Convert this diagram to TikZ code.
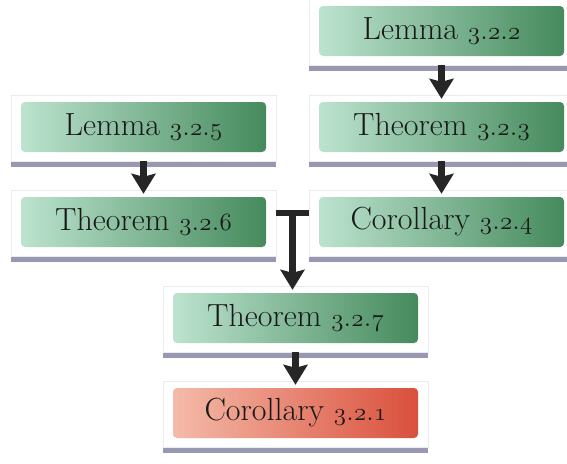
\documentclass[tikz,border=0pt]{standalone}
\usetikzlibrary{arrows.meta}
\usetikzlibrary{positioning, calc, shadows, backgrounds}

\definecolor{mintlight}{HTML}{BCE3CF}
\definecolor{mintmid}{HTML}{86BFA0}
\definecolor{mintdark}{HTML}{458A5C}
\definecolor{salmonlight}{HTML}{F5BAA9}
\definecolor{salmonmid}{HTML}{EB8A74}
\definecolor{salmondark}{HTML}{D9503C}
\definecolor{shadowgray}{HTML}{77759A}

\newcommand\osnum[1]{{\fontencoding{OML}\fontfamily{cmm}\fontseries{m}\fontshape{it}\selectfont #1}}
\newcommand\refnum[1]{\osnum{3}.\osnum{2}.\osnum{#1}}

\begin{document}
\begin{tikzpicture}[x=1pt, y=-1pt,
		box/.style = {rounded corners=4pt, minimum width=245pt, minimum height=50pt,
			left color=mintlight, middle color=mintmid, right color=mintdark, text=black!90,
			font=\fontsize{32}{34}\selectfont},
		redbox/.style = {box, left color=salmonlight, middle color=salmonmid, right color=salmondark},
		card/.style = {fill=white, draw=black!8, line width=0.6pt,
			drop shadow={shadow xshift=0pt, shadow yshift=-6pt, opacity=0.75, fill=shadowgray}},
		arr/.style = {line width=6.5pt, draw=black!85, -{Stealth[length=20pt, width=24pt, inset=3pt]}},
		bar/.style = {line width=6.5pt, draw=black!85}]
	\useasboundingbox (0,0) rectangle (567,463);
	
	\node[box] (L322) at (441.5,31) {Lemma \refnum{2}};
	\node[box] (T323) at (441.5,127) {Theorem \refnum{3}};
	\node[box] (C324) at (441.5,222) {Corollary \refnum{4}};
	\node[box] (L325) at (143.5,127) {Lemma \refnum{5}};
	\node[box] (T326) at (143.5,222) {Theorem \refnum{6}};
	\node[box] (T327) at (295.5,318) {Theorem \refnum{7}};
	\node[redbox] (C321) at (295.5,413) {Corollary \refnum{1}};
	
	\begin{scope}[on background layer]
		\foreach \n in {L322, T323, C324, L325, T326, T327, C321}
			\draw[card] ([shift={(-10pt,7pt)}]\n.north west) rectangle ([shift={(10pt,-9pt)}]\n.south east);
	\end{scope}
	
	\draw[arr] ([yshift=-9pt]L322.south) -- ([yshift=3pt]T323.north);
	\draw[arr] ([yshift=-9pt]T323.south) -- ([yshift=3pt]C324.north);
	\draw[arr] ([yshift=-9pt]L325.south) -- ([yshift=3pt]T326.north);
	\draw[arr] ([yshift=-9pt]T327.south) -- ([yshift=3pt]C321.north);
	
	% joint of 3.2.6 and 3.2.4
	\coordinate (join) at ($([yshift=9pt]T326.east)!0.5!([yshift=9pt]C324.west)$);
	\draw[bar] ([shift={(10pt,9pt)}]T326.east) -- ([shift={(-10pt,9pt)}]C324.west);
	\draw[arr] ([yshift=3pt]join) -- ([yshift=3pt]join |- T327.north);
\end{tikzpicture}
\end{document}
